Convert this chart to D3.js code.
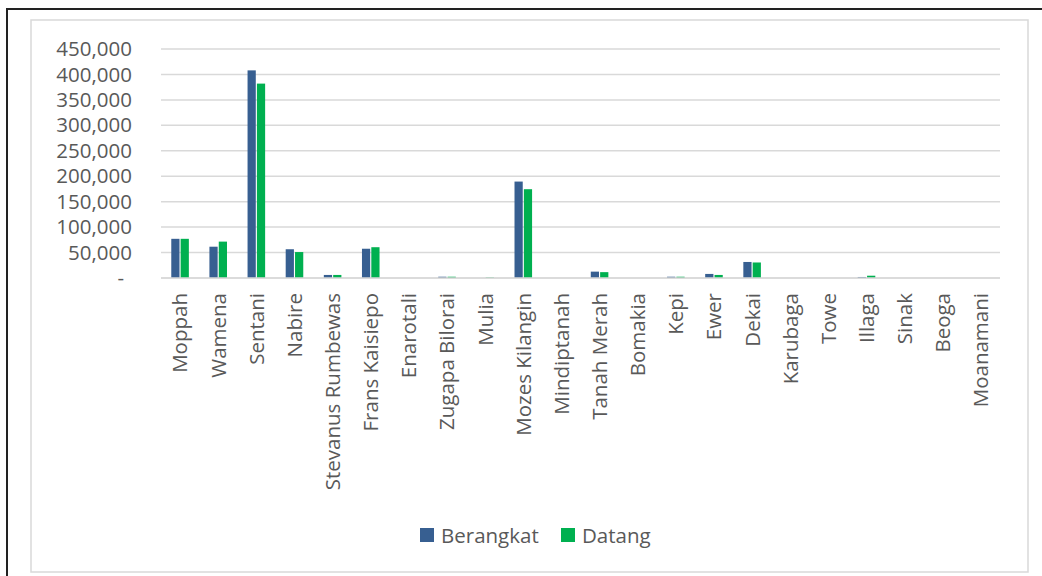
<!DOCTYPE html>
<html><head><meta charset="utf-8">
<script src="https://cdn.jsdelivr.net/npm/d3@7"></script>
<style>body{margin:0;background:#fff;} text{font-family:"Open Sans",sans-serif;}</style>
</head><body>
<svg id="chart" width="1042" height="576"></svg>
<script>
const categories = ["Moppah","Wamena","Sentani","Nabire","Stevanus Rumbewas","Frans Kaisiepo","Enarotali","Zugapa Bilorai","Mulia","Mozes Kilangin","Mindiptanah","Tanah Merah","Bomakia","Kepi","Ewer","Dekai","Karubaga","Towe","Illaga","Sinak","Beoga","Moanamani"];
const berangkat = [77000,61500,408000,56500,6000,57500,0,2500,0,189500,0,12500,0,2500,8000,31500,0,0,2000,0,0,0];
const datang    = [77000,71500,382000,51000,6000,60500,0,2500,1000,174500,0,11500,0,2500,6000,30500,0,0,4500,0,0,0];
const yTicks = [0,50000,100000,150000,200000,250000,300000,350000,400000,450000];
const seriesNames = ["Berangkat","Datang"];
const colors = ["#375F91","#00B050"];

const svg = d3.select("#chart");
svg.append("rect").attr("x",7).attr("y",9).attr("width",1040).attr("height",580).attr("fill","none").attr("stroke","#222").attr("stroke-width",2);
svg.append("rect").attr("x",31).attr("y",20).attr("width",997).attr("height",552).attr("fill","#fff").attr("stroke","#d9d9d9").attr("stroke-width",1.5);

const x0 = 161, x1 = 1000, yTop = 49, yBot = 278;
const x = d3.scaleBand().domain(categories).range([x0, x1]).paddingInner(0).paddingOuter(0);
const xs = d3.scaleBand().domain(seriesNames).range([0, x.bandwidth()]).paddingInner(0.12).paddingOuter(1.1);
const y = d3.scaleLinear().domain([0,450000]).range([yBot, yTop]);

svg.append("g").selectAll("line").data(yTicks).join("line")
  .attr("x1",x0).attr("x2",x1).attr("y1",d=>y(d)).attr("y2",d=>y(d))
  .attr("stroke","#d9d9d9").attr("stroke-width",1.5);

const yAxis = d3.axisLeft(y).tickValues(yTicks).tickSize(0).tickPadding(0)
  .tickFormat(d => d===0 ? "-" : d3.format(",")(d));
const gy = svg.append("g").attr("transform",`translate(${x0-29},0)`).call(yAxis);
gy.select(".domain").remove();
gy.selectAll("text").attr("font-size",20.5).attr("fill","#595959").attr("font-family","Open Sans");
gy.selectAll(".tick").filter(d=>d===0).select("text").attr("dx",-8);

const data = categories.map((c,i)=>({c, vals:[berangkat[i], datang[i]]}));
const groups = svg.append("g").selectAll("g").data(data).join("g")
  .attr("transform",d=>`translate(${x(d.c)},0)`);
groups.selectAll("rect").data(d=>d.vals.map((v,j)=>({v, s:seriesNames[j], j}))).join("rect")
  .attr("x",d=>xs(d.s)).attr("width",xs.bandwidth())
  .attr("y",d=>y(d.v)).attr("height",d=>yBot - y(d.v))
  .attr("fill",d=>colors[d.j]);

svg.append("line").attr("x1",x0).attr("x2",x1).attr("y1",yBot).attr("y2",yBot).attr("stroke","#d9d9d9").attr("stroke-width",1.5);

const xAxis = d3.axisBottom(x).tickSize(0).tickPadding(0);
const gx = svg.append("g").attr("transform",`translate(0,${yBot})`).call(xAxis);
gx.select(".domain").remove();
gx.selectAll("text").attr("font-size",20.5).attr("fill","#595959").attr("font-family","Open Sans")
  .attr("text-anchor","end").attr("transform","rotate(-90)").attr("x",-15).attr("y",0).attr("dy","0.36em");

const legend = svg.append("g").attr("transform","translate(420,528)");
const items = [{n:"Berangkat",c:colors[0],x:0},{n:"Datang",c:colors[1],x:141}];
items.forEach(it=>{
  legend.append("rect").attr("x",it.x).attr("y",0).attr("width",14).attr("height",14).attr("fill",it.c);
  legend.append("text").attr("x",it.x+21).attr("y",15).attr("font-size",20.5).attr("fill","#595959").text(it.n);
});
</script>
</body></html>
